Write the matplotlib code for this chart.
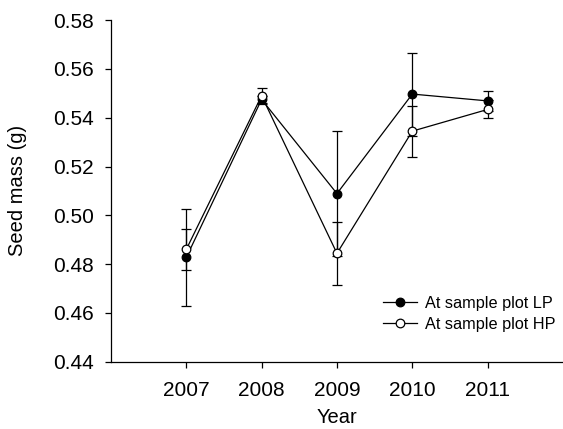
import matplotlib
matplotlib.use("Agg")
import matplotlib.pyplot as plt

plt.rcParams["font.family"] = ["Liberation Sans", "DejaVu Sans"]

# seed mass per year, mean and error (g)
years = [2007, 2008, 2009, 2010, 2011]
lp_mean = [0.4827, 0.5475, 0.5089, 0.5497, 0.5469]
lp_err = [0.0200, 0.0015, 0.0256, 0.0170, 0.0040]
hp_mean = [0.4860, 0.5490, 0.4844, 0.5345, 0.5434]
hp_err = [0.0085, 0.0033, 0.0130, 0.0105, 0.0037]

fig = plt.figure(figsize=(5.63, 4.29), dpi=100)
ax = fig.add_axes([0.197, 0.157, 0.803, 0.796])

kw = dict(color="black", linewidth=0.9, markersize=6.2, capsize=3.3,
          elinewidth=0.9, capthick=0.9, markeredgewidth=0.9)
ax.errorbar(years, lp_mean, yerr=lp_err, marker="o", markerfacecolor="black",
            label="At sample plot LP", zorder=3, **kw)
ax.errorbar(years, hp_mean, yerr=hp_err, marker="o", markerfacecolor="white",
            label="At sample plot HP", zorder=4, **kw)

ax.set_xlim(2006, 2012)
ax.set_ylim(0.44, 0.58)
ax.set_xticks(years)
ax.set_yticks([0.44, 0.46, 0.48, 0.50, 0.52, 0.54, 0.56, 0.58])
ax.yaxis.set_major_formatter(matplotlib.ticker.FormatStrFormatter("%.2f"))
ax.tick_params(direction="out", length=4, width=0.9, labelsize=15)
ax.tick_params(axis="x", pad=10)
ax.tick_params(axis="y", pad=8)
for s in ("top", "right"):
    ax.spines[s].set_visible(False)
for s in ("left", "bottom"):
    ax.spines[s].set_linewidth(0.9)

ax.set_xlabel("Year", fontsize=14.5, labelpad=6)
ax.set_ylabel("Seed mass (g)", fontsize=14.5, labelpad=19)

handles, labels = ax.get_legend_handles_labels()
handles = [h[0] for h in handles]
ax.legend(handles, labels, loc="upper left", bbox_to_anchor=(0.668, 0.325),
          bbox_transform=fig.transFigure, frameon=False, fontsize=11.7,
          handlelength=2.1, handletextpad=0.5, labelspacing=0.35,
          borderaxespad=0)

fig.savefig("out.png", dpi=100)
